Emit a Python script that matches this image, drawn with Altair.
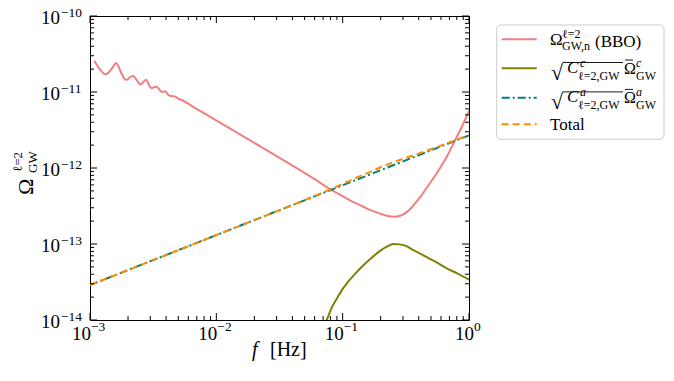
import altair as alt
import pandas as pd

# ---------------- data ----------------
f_bbo = [1.081e-3, 1.148e-3, 1.230e-3, 1.315e-3, 1.380e-3, 1.462e-3, 1.549e-3, 1.607e-3,
         1.679e-3, 1.758e-3, 1.841e-3, 1.919e-3, 1.995e-3, 2.089e-3, 2.203e-3, 2.291e-3,
         2.399e-3, 2.489e-3, 2.570e-3, 2.692e-3, 2.773e-3, 2.884e-3, 2.985e-3, 3.076e-3,
         3.236e-3, 3.373e-3, 3.548e-3, 3.741e-3, 3.926e-3, 4.121e-3, 4.295e-3, 4.519e-3,
         4.710e-3, 5.012e-3, 5.321e-3, 6.776e-3, 1.74e-2, 5.86e-2, 8.18e-2,
         0.1, 0.1122, 0.1259, 0.1459, 0.1660, 0.1905, 0.2188, 0.2399, 0.2630, 0.2884,
         0.3162, 0.3467, 0.3802, 0.4169, 0.4624, 0.5248, 0.5902, 0.6683, 0.7516, 0.8710, 1.0]
omega_bbo = [2.570e-11, 2.188e-11, 1.884e-11, 1.710e-11, 1.758e-11, 1.950e-11, 2.239e-11, 2.399e-11,
             2.188e-11, 1.820e-11, 1.549e-11, 1.445e-11, 1.479e-11, 1.585e-11, 1.622e-11, 1.514e-11,
             1.349e-11, 1.259e-11, 1.288e-11, 1.396e-11, 1.445e-11, 1.318e-11, 1.175e-11, 1.122e-11,
             1.161e-11, 1.175e-11, 1.072e-11, 1.000e-11, 1.023e-11, 9.33e-12, 8.91e-12, 8.81e-12,
             8.71e-12, 8.13e-12, 7.85e-12, 6.17e-12, 2.45e-12, 7.31e-13, 5.13e-13,
             4.266e-13, 3.802e-13, 3.467e-13, 3.090e-13, 2.786e-13, 2.570e-13, 2.371e-13, 2.301e-13,
             2.291e-13, 2.371e-13, 2.570e-13, 2.951e-13, 3.548e-13, 4.266e-13, 5.495e-13, 7.413e-13,
             1.0e-12, 1.413e-12, 2.089e-12, 3.388e-12, 5.623e-12]

f_c = [0.06761, 0.07482, 0.08128, 0.08974, 0.1, 0.1076, 0.1259, 0.1459, 0.1698, 0.1977,
       0.2239, 0.2512, 0.2818, 0.3162, 0.3631, 0.4467, 0.5495, 0.6668, 0.8128, 1.0]
omega_c = [7.16e-15, 1.0e-14, 1.413e-14, 1.905e-14, 2.570e-14, 3.020e-14, 4.074e-14, 5.248e-14,
           6.607e-14, 8.128e-14, 9.226e-14, 1.0e-13, 9.886e-14, 9.441e-14, 8.318e-14, 6.918e-14,
           5.754e-14, 4.786e-14, 4.074e-14, 3.388e-14]

f_a = [1e-3, 1e-2, 1e-1, 1.0]
omega_a = [2.88e-14, 1.31e-13, 5.93e-13, 2.69e-12]

f_tot = [1e-3, 1e-2, 0.0748, 0.1, 0.1459, 0.1977, 0.2512, 0.363, 0.667, 1.0]
omega_tot = [2.88e-14, 1.31e-13, 5.01e-13, 6.19e-13, 8.16e-13, 1.014e-12, 1.187e-12,
             1.467e-12, 2.108e-12, 2.724e-12]

x_major = [1e-3, 1e-2, 1e-1]
x_exps = ["−3", "−2", "−1"]
x_last = [1.0]
x_last_exp = ["0"]
y_major = [1e-14, 1e-13, 1e-12, 1e-11, 1e-10]
y_exps = ["−14", "−13", "−12", "−11", "−10"]
x_minor = [k * 10.0 ** e for e in (-3, -2, -1) for k in range(2, 10)]
y_minor = [k * 10.0 ** e for e in (-14, -13, -12, -11) for k in range(2, 10)]

# ---------------- layout / style ----------------
W, H = 379, 304
FONT = "Liberation Serif"
RED, OLIVE, TEAL, ORANGE = "#F08080", "#808000", "#008080", "#FF8C00"

xs = alt.Scale(type="log", domain=[1e-3, 1.0], nice=False)
ys = alt.Scale(type="log", domain=[1e-14, 1e-10], nice=False)
one = pd.DataFrame({"a": [0]})


def line(f, v, **kw):
    df = pd.DataFrame({"f": f, "v": v})
    return alt.Chart(df).mark_line(clip=True, strokeWidth=2, **kw).encode(
        x=alt.X("f:Q", scale=xs, axis=None),
        y=alt.Y("v:Q", scale=ys, axis=None),
    )


def xticks(vals, size, top):
    df = pd.DataFrame({"v": vals})
    y0, y1 = (0, size) if top else (H, H - size)
    return alt.Chart(df).mark_rule(color="black", strokeWidth=1).encode(
        x=alt.X("v:Q", scale=xs, axis=None), y=alt.value(y0), y2=alt.value(y1))


def yticks(vals, size, right):
    df = pd.DataFrame({"v": vals})
    x0, x1 = (W, W - size) if right else (0, size)
    return alt.Chart(df).mark_rule(color="black", strokeWidth=1).encode(
        y=alt.Y("v:Q", scale=ys, axis=None), x=alt.value(x0), x2=alt.value(x1))


def txt(s, x, y, size, style=None, angle=None, align="left"):
    kw = dict(font=FONT, fontSize=size, align=align, baseline="alphabetic", color="black")
    if style:
        kw["fontStyle"] = style
    if angle is not None:
        kw["angle"] = angle
    return alt.Chart(one).mark_text(**kw).encode(
        x=alt.value(x), y=alt.value(y), text=alt.value(s))


def hrule(x0, x1, y, color="black", width=1.0, dash=None):
    kw = dict(color=color, strokeWidth=width)
    if dash:
        kw["strokeDash"] = dash
    return alt.Chart(one).mark_rule(**kw).encode(
        x=alt.value(x0), x2=alt.value(x1), y=alt.value(y))


layers = []
# data lines
layers.append(line(f_bbo, omega_bbo, color=RED, interpolate="monotone"))
layers.append(line(f_c, omega_c, color=OLIVE, interpolate="monotone"))
layers.append(line(f_a, omega_a, color=TEAL, strokeDash=[8, 3, 2, 3]))
layers.append(line(f_tot, omega_tot, color=ORANGE, strokeDash=[7, 4], interpolate="monotone"))

# inward ticks on all sides
for top in (False, True):
    layers.append(xticks(x_major + x_last, 7, top))
    layers.append(xticks(x_minor, 4, top))
for right in (False, True):
    layers.append(yticks(y_major, 7, right))
    layers.append(yticks(y_minor, 4, right))

# y tick labels
dfy = pd.DataFrame({"v": y_major, "e": y_exps})
layers.append(alt.Chart(dfy).mark_text(font=FONT, fontSize=19, align="left", baseline="alphabetic", dy=8).encode(
    x=alt.value(-49), y=alt.Y("v:Q", scale=ys, axis=None), text=alt.value("10")))
layers.append(alt.Chart(dfy).mark_text(font=FONT, fontSize=13.5, align="left", baseline="alphabetic", dy=1).encode(
    x=alt.value(-29), y=alt.Y("v:Q", scale=ys, axis=None), text="e:N"))

# x tick labels
dfx = pd.DataFrame({"v": x_major, "e": x_exps})
dfx0 = pd.DataFrame({"v": x_last, "e": x_last_exp})
for d, off in ((dfx, 1), (dfx0, 5)):
    layers.append(alt.Chart(d).mark_text(font=FONT, fontSize=19, align="right", baseline="alphabetic", dx=off).encode(
        x=alt.X("v:Q", scale=xs, axis=None), y=alt.value(H + 19.7), text=alt.value("10")))
    layers.append(alt.Chart(d).mark_text(font=FONT, fontSize=13.5, align="left", baseline="alphabetic", dx=off).encode(
        x=alt.X("v:Q", scale=xs, axis=None), y=alt.value(H + 11), text="e:N"))

# axis titles
layers.append(txt("f", 162, 340, 20, style="italic"))
layers.append(txt("[Hz]", 180, 340, 20))
layers.append(txt("Ω", -57, 179, 22, angle=270))
layers.append(txt("GW", -53, 157, 13, angle=270))
layers.append(txt("ℓ=2", -68, 156, 13, angle=270))

# legend
layers.append(alt.Chart(one).mark_rect(fill="white", stroke="#cccccc", strokeWidth=1, cornerRadius=4).encode(
    x=alt.value(406.7), x2=alt.value(574), y=alt.value(9), y2=alt.value(123.3)))
layers.append(hrule(411.7, 446.7, 23.3, RED, 2))
layers.append(hrule(411.7, 446.7, 52.3, OLIVE, 2))
layers.append(hrule(411.7, 446.7, 81.7, TEAL, 2, [8, 3, 2, 3]))
layers.append(hrule(411.7, 446.7, 108.3, ORANGE, 2, [7, 4]))

# entry 1
layers.append(txt("Ω", 460, 29, 17))
layers.append(txt("ℓ=2", 472, 21.5, 12))
layers.append(txt("GW,n", 472, 33.5, 12))
layers.append(txt("(BBO)", 505, 30.5, 17))

# entries 2 and 3
for sup, dyy in (("c", 0.0), ("a", 29.4)):
    layers.append(txt("√", 461, 64 + dyy, 22))
    layers.append(hrule(473, 533, 46.5 + dyy, "black", 0.9))
    layers.append(txt("C", 477, 57 + dyy, 17, style="italic"))
    layers.append(txt(sup, 490, 50.5 + dyy, 12, style="italic"))
    layers.append(txt("ℓ=2,GW", 488, 63.5 + dyy, 12))
    layers.append(txt("Ω", 534, 58 + dyy, 16))
    layers.append(hrule(535, 543, 44 + dyy, "black", 0.9))
    layers.append(txt(sup, 546, 50.5 + dyy, 12, style="italic"))
    layers.append(txt("GW", 546, 63.5 + dyy, 12))

# entry 4
layers.append(txt("Total", 460, 114, 17))

chart = alt.layer(*layers).properties(
    width=W, height=H,
    autosize="none",
    padding={"left": 82, "top": 8, "right": 197, "bottom": 53},
    background="white",
).configure_view(stroke="black", strokeWidth=1)

chart.save("out.html", embed_options={"renderer": "svg", "actions": False})
